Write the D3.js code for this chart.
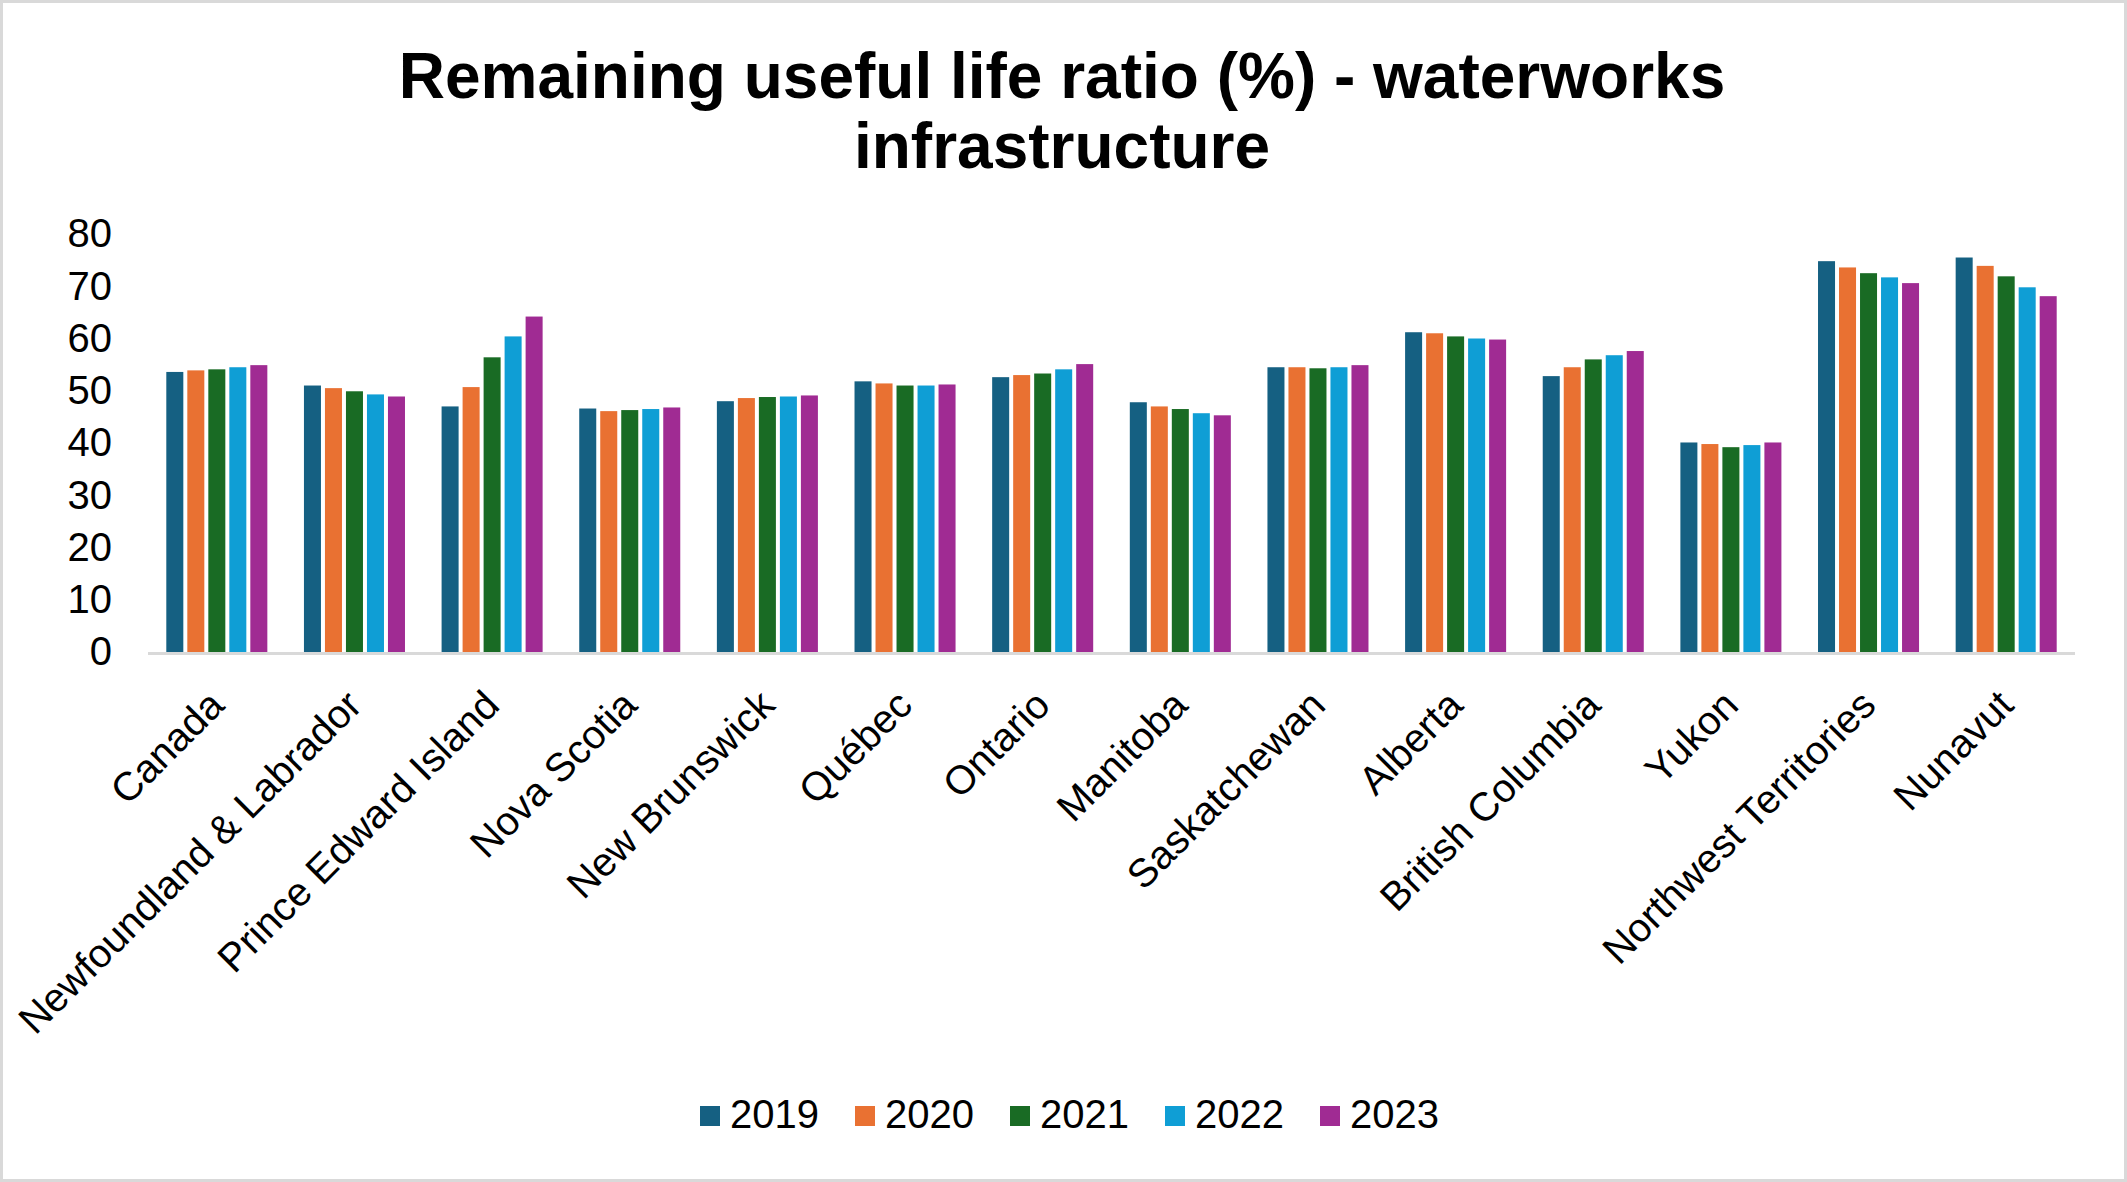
<!DOCTYPE html>
<html>
<head>
<meta charset="utf-8">
<script src="https://cdn.jsdelivr.net/npm/d3@7"></script>
<style>
  html, body { margin: 0; padding: 0; background: #fff; }
  svg { display: block; font-family: "Liberation Sans", Arial, sans-serif; }
</style>
</head>
<body>
<svg id="chart" width="2127" height="1182"></svg>
<script>
const categories = ["Canada", "Newfoundland & Labrador", "Prince Edward Island", "Nova Scotia",
  "New Brunswick", "Québec", "Ontario", "Manitoba", "Saskatchewan", "Alberta",
  "British Columbia", "Yukon", "Northwest Territories", "Nunavut"];
const years = ["2019", "2020", "2021", "2022", "2023"];
const v2019 = [53.6, 51.0, 47.0, 46.6, 48.0, 51.8, 52.6, 47.8, 54.5, 61.2, 52.8, 40.1, 74.8, 75.5];
const v2020 = [53.9, 50.5, 50.7, 46.1, 48.6, 51.4, 53.0, 47.0, 54.5, 61.0, 54.5, 39.8, 73.6, 73.9];
const v2021 = [54.1, 49.9, 56.4, 46.3, 48.8, 51.0, 53.3, 46.5, 54.3, 60.4, 56.0, 39.2, 72.5, 71.9];
const v2022 = [54.5, 49.3, 60.4, 46.5, 48.9, 51.0, 54.1, 45.7, 54.5, 60.0, 56.8, 39.6, 71.7, 69.8];
const v2023 = [54.9, 48.9, 64.2, 46.8, 49.1, 51.2, 55.1, 45.3, 54.9, 59.8, 57.6, 40.1, 70.6, 68.1];
const yTicks = [0, 10, 20, 30, 40, 50, 60, 70, 80];
const colors = ["#156082", "#E97132", "#196B24", "#0F9ED5", "#A02B93"];
const titleLines = ["Remaining useful life ratio (%) - waterworks", "infrastructure"];

const seriesValues = [v2019, v2020, v2021, v2022, v2023];

const W = 2127, H = 1182;
const plot = { left: 148, right: 2075, top: 234, bottom: 652 };

const svg = d3.select("#chart");

// border
svg.append("rect").attr("x", 1.5).attr("y", 1.5).attr("width", W - 3).attr("height", H - 3)
  .attr("fill", "#fff").attr("stroke", "#d9d9d9").attr("stroke-width", 3);

// title
const title = svg.append("text").attr("text-anchor", "middle")
  .attr("font-size", 64).attr("font-weight", "bold").attr("fill", "#000");
titleLines.forEach((t, i) => {
  title.append("tspan").attr("x", 1062).attr("y", 98 + i * 70).text(t);
});

const x0 = d3.scaleBand().domain(categories).range([plot.left, plot.right])
  .paddingInner(0.266).paddingOuter(0.133);
const x1 = d3.scaleBand().domain(years).range([0, x0.bandwidth()]).paddingInner(0.19).paddingOuter(0);
const y = d3.scaleLinear().domain([0, 80]).range([plot.bottom, plot.top]);

// y axis labels
const yAxis = d3.axisLeft(y).tickValues(yTicks).tickSize(0).tickPadding(0);
const yg = svg.append("g").attr("transform", `translate(${112},0)`).call(yAxis);
yg.select(".domain").remove();
yg.selectAll("text").attr("font-size", 40).attr("fill", "#000")
  .attr("font-family", "Liberation Sans, Arial, sans-serif");

// bars
const groups = svg.append("g").selectAll("g").data(categories).join("g")
  .attr("transform", d => `translate(${x0(d)},0)`);
groups.selectAll("rect")
  .data((d, i) => years.map((yr, j) => ({ yr, v: seriesValues[j][i], c: colors[j] })))
  .join("rect")
  .attr("x", d => x1(d.yr))
  .attr("width", x1.bandwidth())
  .attr("y", d => y(d.v))
  .attr("height", d => y(0) - y(d.v))
  .attr("fill", d => d.c);

// x axis
const xAxis = d3.axisBottom(x0).tickSize(0).tickPadding(0);
const xg = svg.append("g").attr("transform", `translate(0,${plot.bottom})`).call(xAxis);
xg.select(".domain").remove();
svg.append("line").attr("x1", plot.left).attr("x2", plot.right)
  .attr("y1", plot.bottom + 1.5).attr("y2", plot.bottom + 1.5)
  .attr("stroke", "#d9d9d9").attr("stroke-width", 3);
xg.selectAll(".tick text")
  .attr("font-size", 40).attr("fill", "#000")
  .attr("font-family", "Liberation Sans, Arial, sans-serif")
  .attr("text-anchor", "end")
  .attr("dy", null).attr("y", 0)
  .attr("dominant-baseline", "middle")
  .attr("transform", "translate(2,48) rotate(-45)");

// legend
const legend = svg.append("g");
const lg = legend.selectAll("g").data(years).join("g")
  .attr("transform", (d, i) => `translate(${700 + i * 155},0)`);
lg.append("rect").attr("x", 0).attr("y", 1106).attr("width", 20).attr("height", 20)
  .attr("fill", (d, i) => colors[i]);
lg.append("text").attr("x", 30).attr("y", 1128).attr("font-size", 40).attr("fill", "#000")
  .text(d => d);
</script>
</body>
</html>
